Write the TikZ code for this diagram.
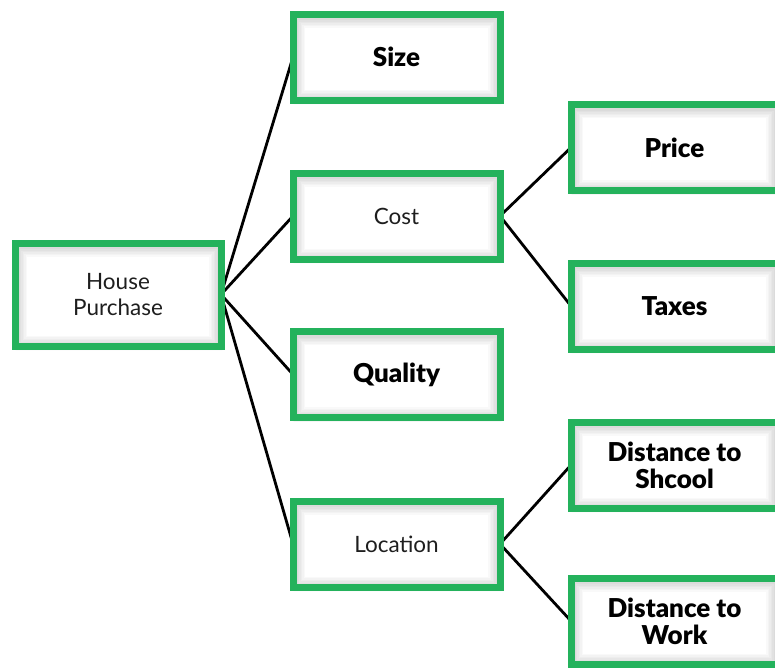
\documentclass[tikz,border=0pt]{standalone}
\usepackage{fontspec}
\setmainfont{Lato}
\newfontfamily\heavyfont{Lato Black}
\usetikzlibrary{shadows,shadows.blur,backgrounds}
\definecolor{boxgreen}{RGB}{36,178,92}
\definecolor{txtgray}{RGB}{30,30,30}
\tikzset{
  x=1pt, y=-1pt,
  box/.style={draw=boxgreen, line width=7pt, fill=white, rectangle,
    minimum width=207pt, minimum height=86pt, inner sep=2pt, outer sep=0pt, align=center,
    blur shadow={shadow blur steps=6, shadow xshift=1pt, shadow yshift=-2.5pt, shadow opacity=30},
    path picture={
      \foreach \w in {9,12,15,18,21,24}
        \draw[black, opacity=0.022, line width=\w pt]
          ([yshift=-1.5pt]path picture bounding box.south west) rectangle ([yshift=-1.5pt]path picture bounding box.north east);
    },
    font=\fontsize{22.5}{26}\selectfont, text=txtgray},
  heavy/.style={font=\heavyfont\fontsize{26}{27}\selectfont, text=black},
  link/.style={line width=2.8pt, black}
}
\begin{document}
\begin{tikzpicture}
\useasboundingbox (0,0) rectangle (775,667);
\begin{scope}
\clip (0,0) rectangle (775,667);
\node[box, minimum width=206pt, minimum height=103pt] (hp) at (118,294.5) {House\\Purchase};
\node[box, heavy] (size) at (396.5,57) {Size};
\node[box] (cost) at (396.5,216) {Cost};
\node[box, heavy] (quality) at (396.5,374.5) {Quality};
\node[box] (loc) at (396.5,544) {Location};
\node[box, heavy] (price) at (674.5,147.5) {Price};
\node[box, heavy] (taxes) at (674.5,306) {Taxes};
\node[box, heavy] (dts) at (674.5,465) {Distance to\\Shcool};
\node[box, heavy] (dtw) at (674.5,621) {Distance to\\Work};
\begin{scope}[on background layer]
\draw[link] (hp.east) -- (size.west);
\draw[link] (hp.east) -- (cost.west);
\draw[link] (hp.east) -- (quality.west);
\draw[link] (hp.east) -- (loc.west);
\draw[link] (cost.east) -- (price.west);
\draw[link] (cost.east) -- (taxes.west);
\draw[link] (loc.east) -- (dts.west);
\draw[link] (loc.east) -- (dtw.west);
\end{scope}
\end{scope}
\end{tikzpicture}
\end{document}
